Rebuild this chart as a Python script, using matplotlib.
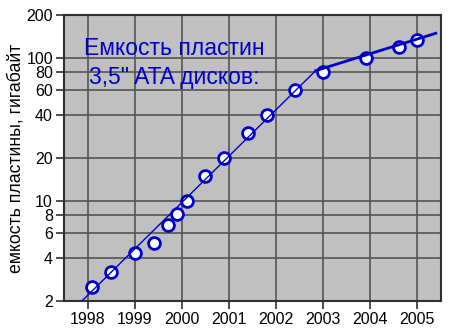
import matplotlib.pyplot as plt
from matplotlib.ticker import FixedLocator, NullLocator

# measured capacities (GB per platter)
years = [1998.1, 1998.5, 1999.0, 1999.4, 1999.7, 1999.9, 2000.1, 2000.5,
         2000.9, 2001.4, 2001.8, 2002.4, 2003.0, 2003.9, 2004.6, 2005.0]
capacity = [2.5, 3.2, 4.3, 5.1, 6.8, 8.1, 10, 15,
            20, 30, 40, 60, 80, 100, 120, 134]

# trend lines
trend1_x = [1997.88, 2002.84]
trend1_y = [2.0, 81.6]
trend2_x = [2002.84, 2005.39]
trend2_y = [81.6, 149]

yticks = [2, 4, 6, 8, 10, 20, 40, 60, 80, 100, 200]
xticks = [1998, 1999, 2000, 2001, 2002, 2003, 2004, 2005]

plt.rcParams['font.family'] = ['Liberation Sans', 'DejaVu Sans']

fig = plt.figure(figsize=(4.5, 3.31), dpi=100)
ax = fig.add_axes([64/450, 1 - 301/331, (441-64)/450, (301-15)/331])
ax.set_facecolor('#c0c0c0')

blue = '#0000cc'
ax.plot(years, capacity, 'o', ms=8.5, mfc='white', mec=blue, mew=2, zorder=3)
ax.plot(trend1_x, trend1_y, color=blue, lw=1, zorder=4)
ax.plot(trend2_x, trend2_y, color=blue, lw=2, zorder=4)

ax.set_yscale('log')
ax.set_ylim(2, 200)
ax.set_xlim(1997.5, 2005.5)
ax.yaxis.set_major_locator(FixedLocator(yticks))
ax.yaxis.set_minor_locator(NullLocator())
ax.set_yticklabels([str(t) for t in yticks])
ax.set_xticks(xticks)
ax.set_xticklabels([str(t) for t in xticks])

ax.grid(True, color='#555555', lw=1.2)
ax.set_axisbelow(True)
for s in ax.spines.values():
    s.set_color('#303030')
    s.set_linewidth(1.5)

ax.tick_params(labelsize=11.5, length=6, width=1.2, color='#303030', pad=2)
ax.set_ylabel('емкость пластины, гигабайт', fontsize=12.7, labelpad=1)

ax.text(0.053, 0.860, 'Емкость пластин', transform=ax.transAxes,
        color=blue, fontsize=16.5, va='baseline', ha='left')
ax.text(0.066, 0.759, '3,5" ATA дисков:', transform=ax.transAxes,
        color=blue, fontsize=16.5, va='baseline', ha='left')

fig.savefig('out.png', dpi=100)
